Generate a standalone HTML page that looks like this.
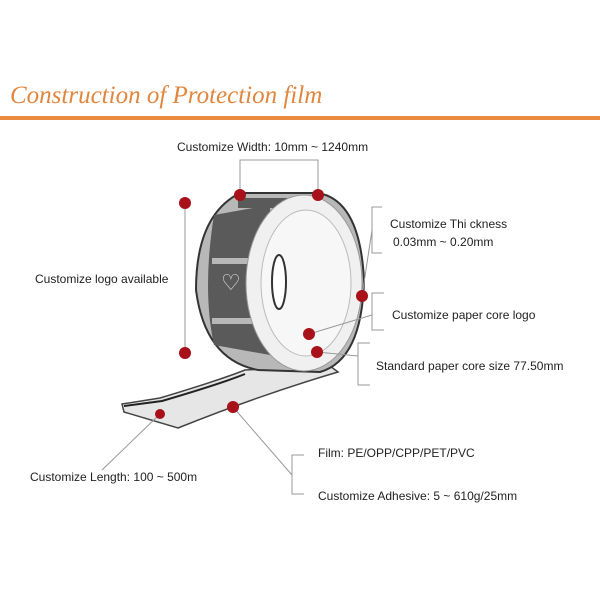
<!DOCTYPE html>
<html><head><style>
body{margin:0;background:#fff;}
svg text{font-family:"Liberation Sans",sans-serif;font-size:12px;fill:#222;}
</style></head><body>
<svg width="600" height="600" viewBox="0 0 600 600" xmlns="http://www.w3.org/2000/svg">
<rect width="600" height="600" fill="#fff"/>
<text x="10" y="103" style="font-family:'Liberation Serif',serif;font-style:italic;font-size:25px;fill:#e0863e;">Construction of Protection film</text>
<rect x="0" y="116" width="600" height="4" fill="#ec8a3e"/>
<text x="177" y="151">Customize Width: 10mm ~ 1240mm</text>
<path d="M240 195 V160 H318 V195" fill="none" stroke="#999" stroke-width="1"/>
<path d="M122 404 L160 398 Q220 380 245 370 L330 366 L338 372 Q260 395 178 428 L124 412 Z" fill="#e6e6e6" stroke="#444" stroke-width="1.5"/>
<path d="M124 406 L162 401 Q220 384 245 374" fill="none" stroke="#222" stroke-width="2"/>
<path d="M240 193 L318 193 Q360 200 364 280 Q362 360 320 372 L258 370 Q205 360 196 290 Q196 215 240 193 Z" fill="#b8b8b8" stroke="#333" stroke-width="2"/>
<path d="M214 215 L270 205 L270 355 L214 345 Q202 290 214 215 Z" fill="#5a5a5a"/>
<rect x="212" y="258" width="58" height="6" fill="#b8b8b8"/>
<rect x="212" y="318" width="58" height="6" fill="#b8b8b8"/>
<rect x="238" y="198" width="60" height="10" fill="#5a5a5a"/>
<text x="221" y="290" style="font-size:22px;fill:#ddd">♡</text>
<ellipse cx="304" cy="283" rx="58" ry="88" fill="#f0f0f0" stroke="#999" stroke-width="1"/>
<ellipse cx="306" cy="283" rx="45" ry="73" fill="#f7f7f7" stroke="#bbb" stroke-width="1"/>
<ellipse cx="279" cy="282" rx="7" ry="27" fill="#fff" stroke="#333" stroke-width="2"/>
<line x1="185" y1="203" x2="185" y2="353" stroke="#999"/>
<path d="M382 207 H372 V253 H382" fill="none" stroke="#999"/>
<line x1="372" y1="230" x2="362" y2="296" stroke="#999"/>
<path d="M384 293 H372 V330 H384" fill="none" stroke="#999"/>
<line x1="309" y1="334" x2="372" y2="315" stroke="#999"/>
<path d="M370 343 H358 V385 H370" fill="none" stroke="#999"/>
<line x1="317" y1="352" x2="358" y2="356" stroke="#999"/>
<line x1="160" y1="414" x2="102" y2="470" stroke="#999"/>
<line x1="233" y1="407" x2="292" y2="475" stroke="#999"/>
<path d="M304 455 H292 V494 H304" fill="none" stroke="#999"/>
<g fill="#a8101a">
<circle cx="240" cy="195" r="6"/><circle cx="318" cy="195" r="6"/>
<circle cx="185" cy="203" r="6"/><circle cx="185" cy="353" r="6"/>
<circle cx="362" cy="296" r="6"/><circle cx="309" cy="334" r="6"/>
<circle cx="317" cy="352" r="6"/><circle cx="160" cy="414" r="5"/>
<circle cx="233" cy="407" r="6"/>
</g>
<text x="35" y="283">Customize logo available</text>
<text x="390" y="228">Customize Thi ckness</text>
<text x="393" y="246">0.03mm ~ 0.20mm</text>
<text x="392" y="319">Customize paper core logo</text>
<text x="376" y="370">Standard paper core size 77.50mm</text>
<text x="30" y="481">Customize Length:  100 ~ 500m</text>
<text x="318" y="457">Film: PE/OPP/CPP/PET/PVC</text>
<text x="318" y="500">Customize Adhesive: 5 ~ 610g/25mm</text>
</svg>
</body></html>
